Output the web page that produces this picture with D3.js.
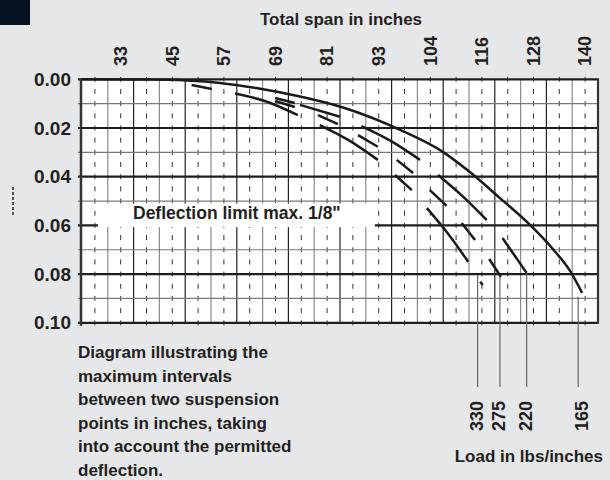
<!DOCTYPE html>
<html>
<head>
<meta charset="utf-8">
<script src="https://cdn.jsdelivr.net/npm/d3@7"></script>
<style>
  body { margin: 0; background: #e6e7e9; }
  text { font-family: "Liberation Sans", Arial, sans-serif; font-weight: bold; fill: #231f20; }
</style>
</head>
<body>
<svg width="610" height="480"></svg>
<script>
// span ticks (inches) and their printed labels
const spanTicks = [33, 45, 57, 69, 81, 93, 105, 117, 129, 141];
const spanLabels = ["33", "45", "57", "69", "81", "93", "104", "116", "128", "140"];
const deflTicks = [0, 0.02, 0.04, 0.06, 0.08, 0.10];

// loads and where each leader line starts
const loads = ["330", "275", "220", "165"];
const loadEndSpan = [116.0, 121.2, 127.4, 139.4];
const loadEndDefl = [0.0804, 0.0811, 0.0795, 0.0893];

// 165 lbs/in, drawn as one line
const curve165 = [[24, 0], [40, 0.0001], [48.4, 0.0005], [56.1, 0.0015], [64.5, 0.0036],
  [74.7, 0.0071], [84.7, 0.0116], [98, 0.0208], [108, 0.0299], [114.2, 0.0381],
  [121.2, 0.0488], [128.2, 0.0598], [133.5, 0.0697], [137.5, 0.0787], [140.3, 0.0877]];

// the other loads only show up as pieces
const pieces330 = [
  [[49.5, 0.0023], [54.2, 0.0040]],
  [[59.6, 0.0058], [67, 0.0092], [74.2, 0.0147]],
  [[79.3, 0.0188], [86, 0.0250], [92.8, 0.0331]],
  [[96.8, 0.0393], [100.7, 0.0455]],
  [[104.2, 0.0529], [109, 0.0631], [113.8, 0.0749]],
  [[116.6, 0.0831], [117.2, 0.0845]]
];
const pieces275 = [
  [[68.9, 0.0089], [73.5, 0.0114]],
  [[78.9, 0.0147], [83.5, 0.0184]],
  [[88.2, 0.0229], [92.8, 0.0277]],
  [[97.2, 0.0331], [101.0, 0.0385]],
  [[104.9, 0.0455], [108.8, 0.0520]],
  [[112.3, 0.0590], [115.4, 0.0660]],
  [[118.7, 0.0738], [121.4, 0.0811]]
];
const pieces220 = [
  [[68.9, 0.0077], [73.5, 0.0097]],
  [[74.7, 0.0105], [84.0, 0.0154]],
  [[89.0, 0.0192], [96, 0.0255], [102.6, 0.0331]],
  [[106.8, 0.0393], [112.5, 0.0480], [118.1, 0.0578]],
  [[121.8, 0.0652], [127.4, 0.0795]]
];

const svg = d3.select("svg");

svg.append("rect").attr("width", 30).attr("height", 25).attr("fill", "#04131f");

let x = d3.scaleLinear().domain([24, 144]).range([82, 598]);
let y = d3.scaleLinear().domain([0, 0.10]).range([79.3, 322.8]);

// plot background
svg.append("rect")
  .attr("x", x(24)).attr("y", y(0))
  .attr("width", x(144) - x(24)).attr("height", y(0.10) - y(0))
  .attr("fill", "#fff");

let grid = svg.append("g");

// dashed middles
let half = (y(0.01) - y(0)) / 2;
grid.selectAll(".dash")
  .data(d3.range(27, 144, 6))
  .enter().append("line")
    .attr("x1", d => x(d)).attr("x2", d => x(d))
    .attr("y1", y(0) - 2.5).attr("y2", y(0.10) + 3)
    .attr("stroke", "#333").attr("stroke-width", 1)
    .attr("stroke-dasharray", "5," + (half - 5));

// solid verticals, alternating grey / dark
grid.selectAll(".vline")
  .data(d3.range(30, 144, 6))
  .enter().append("line")
    .attr("x1", d => x(d)).attr("x2", d => x(d))
    .attr("y1", y(0)).attr("y2", y(0.10))
    .attr("stroke", (d, i) => i % 2 == 0 ? "#8a8a8a" : "#222")
    .attr("stroke-width", 1.2);

// horizontals
grid.selectAll(".hline")
  .data(d3.range(0, 11))
  .enter().append("line")
    .attr("x1", x(24) - 4).attr("x2", x(144))
    .attr("y1", d => y(d / 100)).attr("y2", d => y(d / 100))
    .attr("stroke", d => d % 2 == 0 ? "#1e1e1e" : "#7a7a7a")
    .attr("stroke-width", d => d % 2 == 0 ? 2.2 : 1.2);

// borders
grid.append("line")
  .attr("x1", x(24) - 1).attr("x2", x(24) - 1)
  .attr("y1", y(0) - 1).attr("y2", y(0.10) + 3)
  .attr("stroke", "#333").attr("stroke-width", 2.5);
grid.append("line")
  .attr("x1", x(144)).attr("x2", x(144))
  .attr("y1", y(0) - 1).attr("y2", y(0.10) + 1)
  .attr("stroke", "#333").attr("stroke-width", 2.2);

// deflection limit box
svg.append("rect")
  .attr("x", x(27.7)).attr("y", y(0.0510))
  .attr("width", x(92.1) - x(27.7)).attr("height", y(0.0607) - y(0.0510))
  .attr("fill", "#fff");
svg.append("text")
  .attr("x", 133).attr("y", y(0.0574))
  .attr("font-size", 17.5)
  .text("Deflection limit max. 1/8\"");

// curves
let line = d3.line().x(d => x(d[0])).y(d => y(d[1])).curve(d3.curveMonotoneX);

svg.append("path")
  .attr("d", line(curve165))
  .attr("fill", "none").attr("stroke", "#1a1a1a").attr("stroke-width", 2.5);

[pieces330, pieces275, pieces220].forEach(set => {
  svg.append("g").selectAll("path")
    .data(set)
    .enter().append("path")
      .attr("d", d => line(d))
      .attr("fill", "none").attr("stroke", "#1a1a1a").attr("stroke-width", 2.5);
});

// leader lines + load labels
let leaderBottom = 387;
svg.append("g").selectAll("line")
  .data(loads)
  .enter().append("line")
    .attr("x1", (d, i) => x(loadEndSpan[i])).attr("x2", (d, i) => x(loadEndSpan[i]))
    .attr("y1", (d, i) => y(loadEndDefl[i])).attr("y2", leaderBottom)
    .attr("stroke", "#666").attr("stroke-width", 1.2);

svg.append("g").selectAll("text")
  .data(loads)
  .enter().append("text")
    .attr("transform", (d, i) => "translate(" + (x(loadEndSpan[i]) + (i == 3 ? 3 : -1)) + ",431) rotate(-90)")
    .attr("dy", "0.35em")
    .attr("font-size", 18)
    .text(d => d);

svg.append("text")
  .attr("x", 603).attr("y", 462)
  .attr("text-anchor", "end")
  .attr("font-size", 17)
  .text("Load in lbs/inches");

// top axis labels
svg.append("g").selectAll("text")
  .data(spanTicks)
  .enter().append("text")
    .attr("transform", d => "translate(" + x(d) + ",66) rotate(-90)")
    .attr("dy", "0.35em")
    .attr("font-size", 18)
    .text((d, i) => spanLabels[i]);

svg.append("text")
  .attr("x", 341).attr("y", 25)
  .attr("text-anchor", "middle")
  .attr("font-size", 17)
  .text("Total span in inches");

// left axis labels
svg.append("g").selectAll("text")
  .data(deflTicks)
  .enter().append("text")
    .attr("x", 71).attr("y", d => y(d))
    .attr("dy", "0.35em")
    .attr("text-anchor", "end")
    .attr("font-size", 19)
    .text(d => d.toFixed(2));

// little dotted mark at the left
svg.append("line")
  .attr("x1", 13).attr("x2", 13).attr("y1", 187).attr("y2", 215)
  .attr("stroke", "#555").attr("stroke-width", 2).attr("stroke-dasharray", "3,2");

// note
const note = ["Diagram illustrating the", "maximum intervals", "between two suspension",
  "points in inches, taking", "into account the permitted", "deflection."];
svg.append("g").selectAll("text")
  .data(note)
  .enter().append("text")
    .attr("x", 78).attr("y", (d, i) => 358 + i * 23.5)
    .attr("font-size", 17)
    .text(d => d);
</script>
</body>
</html>
